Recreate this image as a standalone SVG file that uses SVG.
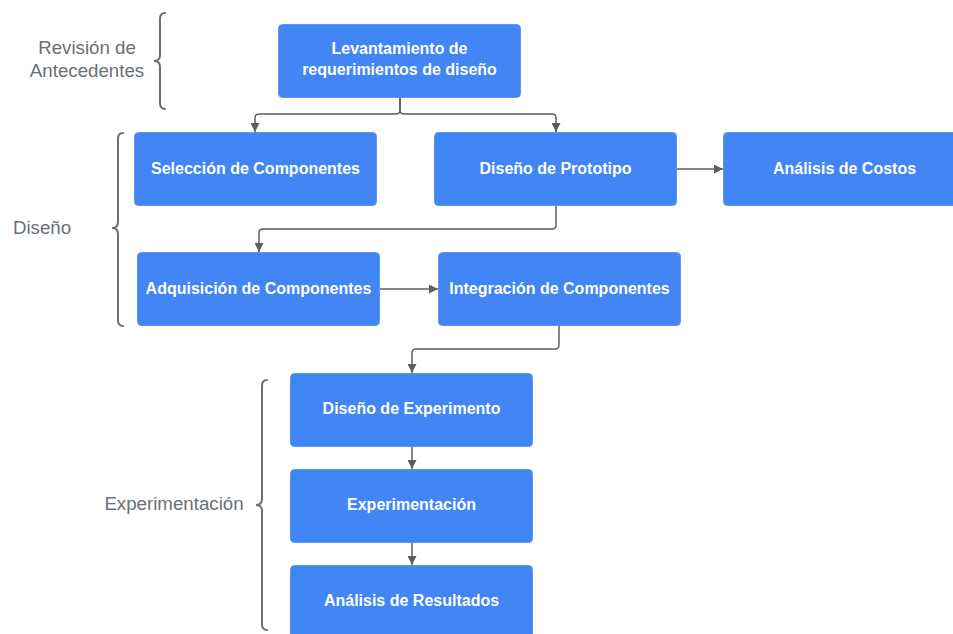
<svg xmlns="http://www.w3.org/2000/svg" width="953" height="634" viewBox="0 0 953 634">
<style>
.box{fill:#4285f4;stroke:#5b95f5;stroke-width:1}
.bt{fill:#ffffff;font-family:"Liberation Sans",Arial,sans-serif;font-weight:bold;font-size:16px;text-anchor:middle}
.lbl{fill:#6a6f78;font-family:"Liberation Sans",Arial,sans-serif;font-size:18.7px;text-anchor:middle}
.brace{fill:none;stroke:#6a6f78;stroke-width:2;stroke-linecap:round}
.c{fill:none;stroke:#5e5e5e;stroke-width:1.5}
</style>
<defs>
<marker id="ah" viewBox="0 0 10 10" refX="10" refY="5" markerWidth="9" markerHeight="9" markerUnits="userSpaceOnUse" orient="auto">
<path d="M0,0 L10,5 L0,10 z" fill="#5e5e5e"/>
</marker>
</defs>
<g id="labels">
<text class="lbl" x="87" y="54">Revisión de</text>
<text class="lbl" x="87" y="77">Antecedentes</text>
<text class="lbl" x="42" y="234">Diseño</text>
<text class="lbl" x="174" y="510">Experimentación</text>
<path class="brace" d="M165,13 Q160,13 160,19 L160,55 Q160,61 154,61 Q160,61 160,67 L160,103 Q160,109 165,109"/>
<path class="brace" d="M123,133 Q118,133 118,139 L118,222 Q118,228 112,228 Q118,228 118,234 L118,320 Q118,326 123,326"/>
<path class="brace" d="M267,380 Q262,380 262,386 L262,499 Q262,505 256,505 Q262,505 262,511 L262,624 Q262,630 267,630"/>
</g>
<g id="connectors">
<path class="c" d="M400,98 L400,110 Q400,114 396,114 L259,114 Q255,114 255,118 L255,132" marker-end="url(#ah)"/>
<path class="c" d="M400,98 L400,110 Q400,114 404,114 L552,114 Q556,114 556,118 L556,132" marker-end="url(#ah)"/>
<path class="c" d="M676,169 L723,169" marker-end="url(#ah)"/>
<path class="c" d="M556,206 L556,225 Q556,229 552,229 L263,229 Q259,229 259,233 L259,252" marker-end="url(#ah)"/>
<path class="c" d="M379,289 L438,289" marker-end="url(#ah)"/>
<path class="c" d="M559,326 L559,345 Q559,349 555,349 L416,349 Q412,349 412,353 L412,373" marker-end="url(#ah)"/>
<path class="c" d="M412,446 L412,469" marker-end="url(#ah)"/>
<path class="c" d="M412,542 L412,565" marker-end="url(#ah)"/>
</g>
<g id="n1"><rect class="box" x="278.5" y="24.5" width="242" height="73" rx="4"/><text class="bt" x="399.5" y="54">Levantamiento de</text><text class="bt" x="399.5" y="75">requerimientos de diseño</text></g>
<g id="n2"><rect class="box" x="134.5" y="132.5" width="242" height="73" rx="4"/><text class="bt" x="255.5" y="174">Selección de Componentes</text></g>
<g id="n3"><rect class="box" x="434.5" y="132.5" width="242" height="73" rx="4"/><text class="bt" x="555.5" y="174">Diseño de Prototipo</text></g>
<g id="n4"><rect class="box" x="723.5" y="132.5" width="242" height="73" rx="4"/><text class="bt" x="844.5" y="174">Análisis de Costos</text></g>
<g id="n5"><rect class="box" x="137.5" y="252.5" width="242" height="73" rx="4"/><text class="bt" x="258.5" y="294">Adquisición de Componentes</text></g>
<g id="n6"><rect class="box" x="438.5" y="252.5" width="242" height="73" rx="4"/><text class="bt" x="559.5" y="294">Integración de Componentes</text></g>
<g id="n7"><rect class="box" x="290.5" y="373.5" width="242" height="73" rx="4"/><text class="bt" x="411.5" y="414">Diseño de Experimento</text></g>
<g id="n8"><rect class="box" x="290.5" y="469.5" width="242" height="73" rx="4"/><text class="bt" x="411.5" y="510">Experimentación</text></g>
<g id="n9"><rect class="box" x="290.5" y="565.5" width="242" height="73" rx="4"/><text class="bt" x="411.5" y="606">Análisis de Resultados</text></g>
</svg>
